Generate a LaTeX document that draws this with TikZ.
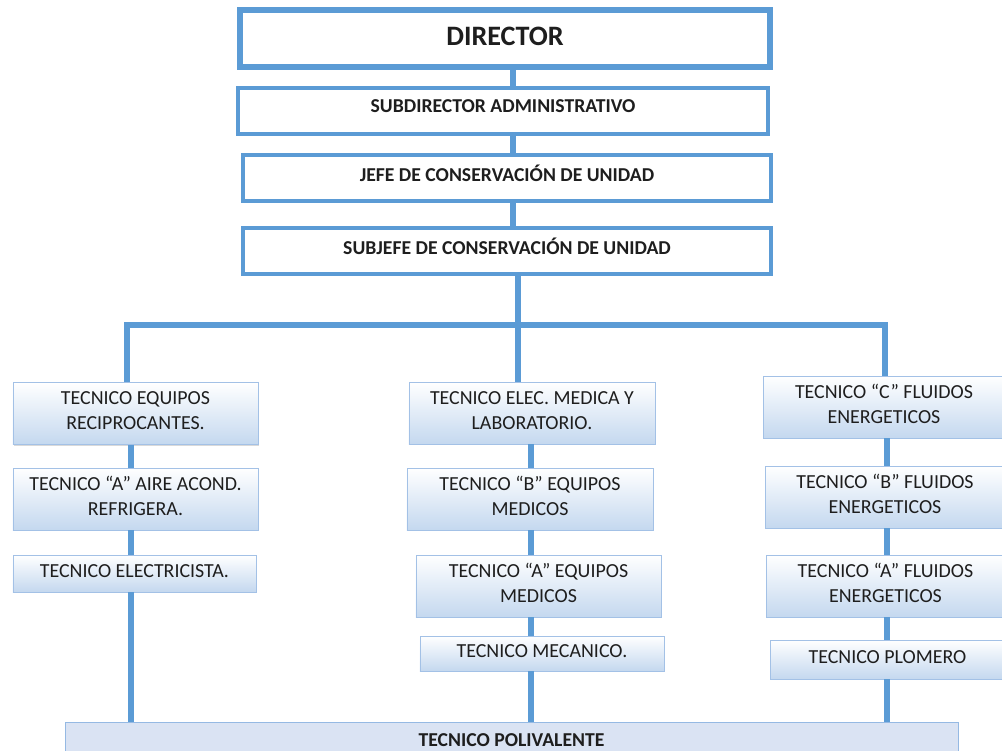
\documentclass[tikz,border=0pt]{standalone}
\usepackage{fontspec}
\setmainfont{Carlito}
\usetikzlibrary{shadows}
\definecolor{lineblue}{HTML}{5B9BD5}
\definecolor{boxedge}{HTML}{A3C1E6}
\definecolor{boxlow}{HTML}{C4D8EF}
\definecolor{polifill}{HTML}{DAE3F3}
\definecolor{inktext}{HTML}{1E1E1E}
\tikzset{link/.style={line width=5pt,lineblue},
  headbox/.style={draw=lineblue,line width=2.6pt,fill=white,minimum height=1.38cm,text=inktext,text depth=8pt,font=\bfseries\fontsize{16.8}{18}\selectfont},
  techbox/.style={draw=boxedge,line width=0.8pt,top color=white,bottom color=boxlow,text=inktext,
    drop shadow={shadow xshift=1.2pt,shadow yshift=-1.2pt,opacity=0.3},
    align=center,minimum height=1.86cm,text depth=5pt,font=\fontsize{17}{21.3}\selectfont}}

\begin{document}
\begin{tikzpicture}[x=0.03cm,y=-0.03cm]
    \useasboundingbox (0,0) rectangle (1002,750);
    \clip (0,0) rectangle (1002,750);
    \node[headbox,minimum width=15.9cm,minimum height=1.71cm,line width=4.3pt,text depth=3pt,font=\bfseries\fontsize{24}{28}\selectfont] (dir) at (505,38.5) {DIRECTOR};
    \draw[lineblue,line width=0.8pt] ([shift={(4pt,-4pt)}]dir.north west) rectangle ([shift={(-4pt,4pt)}]dir.south east);
    \node[headbox,minimum width=15.9cm] (sub) at (503,111) {SUBDIRECTOR ADMINISTRATIVO};
    \node[headbox,minimum width=15.84cm] (jefe) at (507,178) {JEFE DE CONSERVACIÓN DE UNIDAD};
    \node[headbox,minimum width=15.84cm] (subjefe) at (507,251) {SUBJEFE DE CONSERVACIÓN DE UNIDAD};

    \node[techbox,minimum width=7.35cm] (l1) at (135.5,413.5) {TECNICO EQUIPOS\\RECIPROCANTES.};
    \node[techbox,minimum width=7.35cm] (l2) at (135.5,499) {TECNICO “A” AIRE ACOND.\\REFRIGERA.};
    \node[techbox,minimum width=7.29cm,minimum height=1.11cm] (l3) at (134.5,573.5) {TECNICO ELECTRICISTA.};

    \node[techbox,minimum width=7.38cm] (m1) at (532,413) {TECNICO ELEC. MEDICA Y\\LABORATORIO.};
    \node[techbox,minimum width=7.38cm] (m2) at (530,499) {TECNICO “B” EQUIPOS\\MEDICOS};
    \node[techbox,minimum width=7.35cm] (m3) at (538.5,586) {TECNICO “A” EQUIPOS\\MEDICOS};
    \node[techbox,minimum width=7.32cm,minimum height=1.05cm] (m4) at (542,653.5) {TECNICO MECANICO.};

    \node[techbox,minimum width=7.26cm] (r1) at (884,407) {TECNICO “C” FLUIDOS\\ENERGETICOS};
    \node[techbox,minimum width=7.2cm] (r2) at (885,497) {TECNICO “B” FLUIDOS\\ENERGETICOS};
    \node[techbox,minimum width=7.17cm] (r3) at (885.5,586) {TECNICO “A” FLUIDOS\\ENERGETICOS};
    \node[techbox,minimum width=7.05cm,minimum height=1.17cm] (r4) at (887.5,659.5) {TECNICO PLOMERO};

    \node[draw=boxedge!80!lineblue,line width=0.8pt,fill=polifill,minimum width=26.79cm,minimum height=1.08cm,
        text=inktext,font=\bfseries\fontsize{16.8}{18}\selectfont] (poli) at (511.5,740) {TECNICO POLIVALENTE};

    \coordinate (topaxis) at (513,0);
    \coordinate (hub) at (518,325);
    \coordinate (hl) at (127,325);
    \coordinate (hr) at (885,325);
    \coordinate (laxis) at (131,0);
    \coordinate (maxis) at (531,0);
    \coordinate (raxis) at (887,0);

    \draw[link] (dir.south -| topaxis) -- (sub.north -| topaxis);
    \draw[link] (sub.south -| topaxis) -- (jefe.north -| topaxis);
    \draw[link] (jefe.south -| topaxis) -- (subjefe.north -| topaxis);
    \draw[link] (subjefe.south -| hub) -- (hub);
    \draw[link] (hl |- l1.north) -- (hl) -- (hr) -- (hr |- r1.north);
    \draw[link] (hub) -- (hub |- m1.north);

    \draw[link] (l1.south -| laxis) -- (l2.north -| laxis);
    \draw[link] (l2.south -| laxis) -- (l3.north -| laxis);
    \draw[link] (l3.south -| laxis) -- (poli.north -| laxis);

    \draw[link] (m1.south -| maxis) -- (m2.north -| maxis);
    \draw[link] (m2.south -| maxis) -- (m3.north -| maxis);
    \draw[link] (m3.south -| maxis) -- (m4.north -| maxis);
    \draw[link] (m4.south -| maxis) -- (poli.north -| maxis);

    \draw[link] (r1.south -| raxis) -- (r2.north -| raxis);
    \draw[link] (r2.south -| raxis) -- (r3.north -| raxis);
    \draw[link] (r3.south -| raxis) -- (r4.north -| raxis);
    \draw[link] (r4.south -| raxis) -- (poli.north -| raxis);
\end{tikzpicture}
\end{document}
